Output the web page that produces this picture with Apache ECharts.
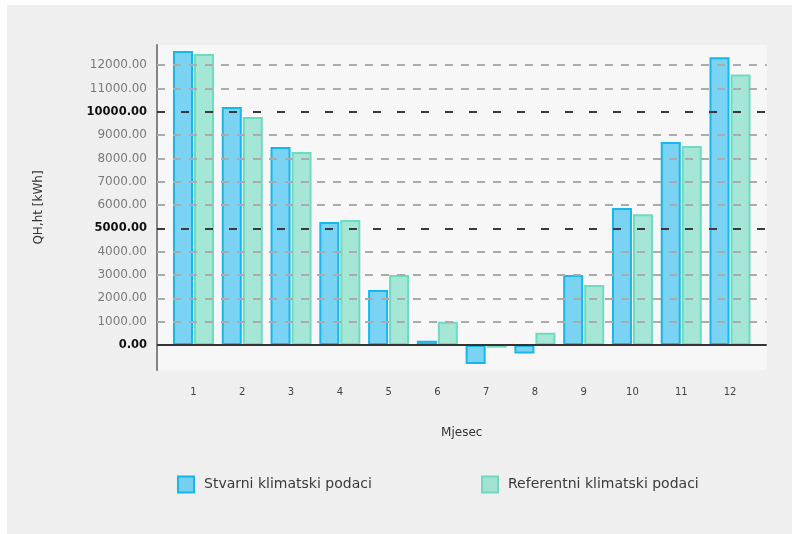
<!DOCTYPE html>
<html>
<head>
<meta charset="utf-8">
<script src="https://cdn.jsdelivr.net/npm/echarts@6/dist/echarts.min.js"></script>
<style>
html,body{margin:0;padding:0;background:#ffffff;}
#panel{position:absolute;left:7px;top:5px;width:785px;height:529px;background:#efefef;}
#c{position:absolute;left:0;top:0;width:798px;height:534px;}
</style>
</head>
<body>
<div id="panel"></div>
<div id="c"></div>
<script>
const months = ['1','2','3','4','5','6','7','8','9','10','11','12'];
const stvarni = [12600, 10200, 8490, 5270, 2360, 180, -810, -360, 3000, 5870, 8700, 12330];
const referentni = [12470, 9770, 8270, 5360, 3000, 1000, -115, 530, 2570, 5610, 8530, 11600];
const yTicks = [0,1000,2000,3000,4000,5000,6000,7000,8000,9000,10000,11000,12000];
const boldTicks = [0, 5000, 10000];
const seriesNames = ['Stvarni klimatski podaci', 'Referentni klimatski podaci'];
const yMin = -1070, yMax = 12860;

const chart = echarts.init(document.getElementById('c'));
const FONT = 'DejaVu Sans';

const gridLineData = yTicks.map(v => {
  let ls;
  if (v === 0) ls = {color:'#333333', width:2, type:'solid'};
  else if (boldTicks.indexOf(v) >= 0) ls = {color:'#3a3a3a', width:2, type:[8,16]};
  else ls = {color:'#ababab', width:2, type:[8,8]};
  return {yAxis: v, lineStyle: ls};
});

chart.setOption({
  animation: false,
  textStyle: {fontFamily: FONT},
  grid: [
    {left:157, right:31.3, top:45, height:325, show:true, backgroundColor:'#f7f7f7', borderWidth:0},
    {left:169.1, right:43.6, top:45, height:325}
  ],
  legend: [
    {data:[seriesNames[0]], icon:'rect', left:177, top:475.5, padding:0, itemWidth:16, itemHeight:16,
     textStyle:{fontSize:14, color:'#3a3a3a', fontFamily:FONT, padding:[0,0,0,5]}},
    {data:[seriesNames[1]], icon:'rect', left:481, top:475.5, padding:0, itemWidth:16, itemHeight:16,
     textStyle:{fontSize:14, color:'#3a3a3a', fontFamily:FONT, padding:[0,0,0,5]}}
  ],
  xAxis: [
    {gridIndex:0, type:'value', min:0, max:1, show:false},
    {gridIndex:1, type:'category', data:months,
     axisLine:{show:false}, axisTick:{show:false},
     axisLabel:{fontSize:10, color:'#444', margin:17, fontFamily:FONT},
     name:'Mjesec', nameLocation:'middle', nameGap:57,
     nameTextStyle:{fontSize:12, color:'#333', fontFamily:FONT}}
  ],
  yAxis: [
    {gridIndex:0, type:'value', min:yMin, max:yMax,
     axisLine:{show:true, lineStyle:{color:'#858585', width:2}},
     axisTick:{show:false}, splitLine:{show:false},
     axisLabel:{customValues:yTicks, margin:10, fontSize:12, color:'#7a7a7a', fontFamily:FONT,
       formatter: v => boldTicks.indexOf(v) >= 0 ? '{b|' + v.toFixed(2) + '}' : v.toFixed(2),
       rich:{b:{fontSize:11.5, fontWeight:'bold', color:'#111', fontFamily:FONT}}},
     name:'QH,ht [kWh]', nameLocation:'middle', nameGap:112, nameRotate:90,
     nameTextStyle:{fontSize:12, color:'#333', fontFamily:FONT}},
    {gridIndex:1, type:'value', min:yMin, max:yMax, show:false, splitLine:{show:false}}
  ],
  series: [
    {type:'line', xAxisIndex:0, yAxisIndex:0, data:[], z:1, silent:true,
     markLine:{silent:true, symbol:['none','none'], label:{show:false}, animation:false,
       emphasis:{disabled:true}, data:gridLineData}},
    {name:seriesNames[0], type:'bar', xAxisIndex:1, yAxisIndex:1, data:stvarni, z:3,
     barWidth:20, barGap:'5%',
     itemStyle:{color:'rgba(0,175,240,0.5)', borderColor:'#17b6ec', borderWidth:2}},
    {name:seriesNames[1], type:'bar', xAxisIndex:1, yAxisIndex:1, data:referentni, z:3,
     barWidth:20, barGap:'5%',
     itemStyle:{color:'rgba(83,213,181,0.5)', borderColor:'#6cdcc0', borderWidth:2}}
  ]
});
</script>
</body>
</html>
